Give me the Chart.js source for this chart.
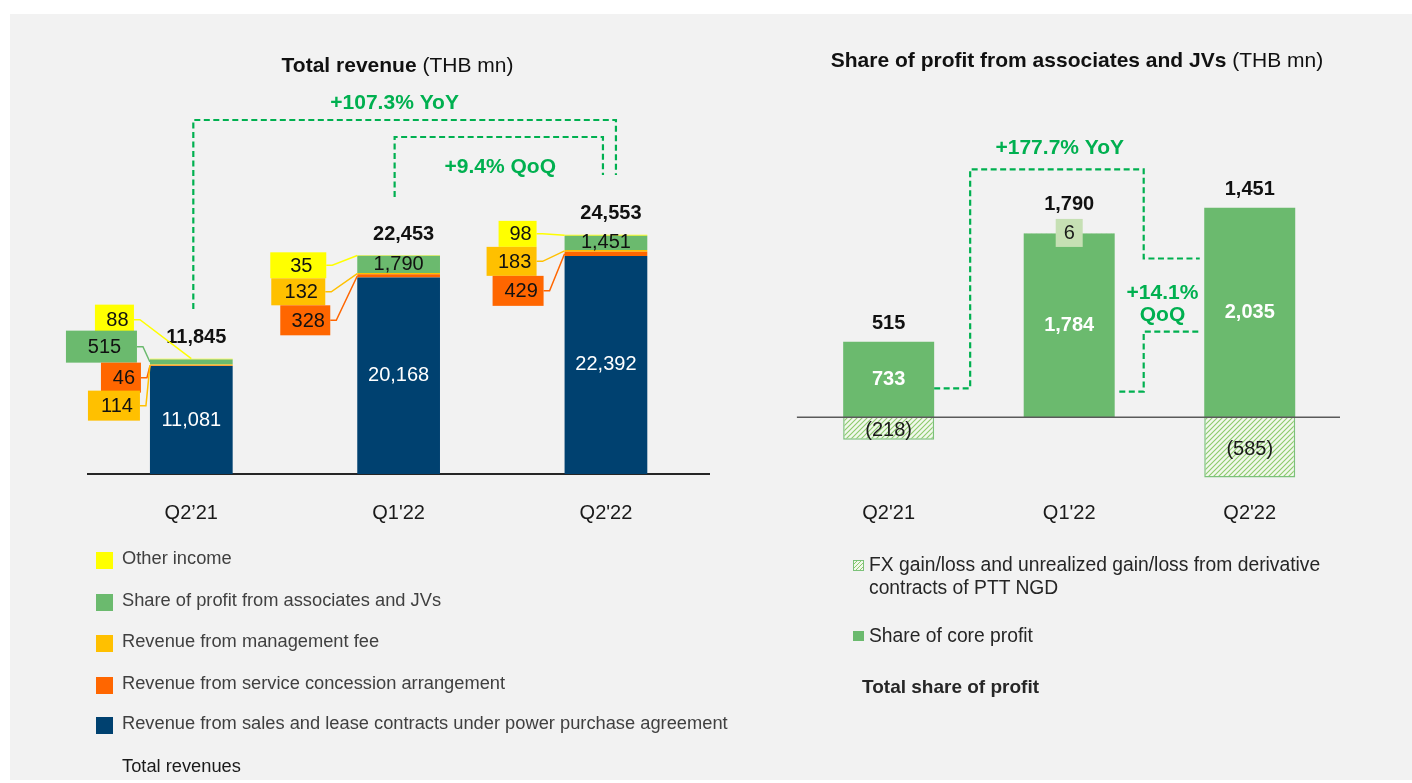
<!DOCTYPE html>
<html><head><meta charset="utf-8">
<script src="https://cdn.jsdelivr.net/npm/chart.js@4.4.1/dist/chart.umd.min.js"></script>
<style>
html,body{margin:0;padding:0;background:#fff;width:1412px;height:783px;overflow:hidden;font-family:"Liberation Sans",Arial,sans-serif;}
#panel{position:absolute;left:10px;top:14px;width:1402px;height:766px;background:#f2f2f2;}
canvas{position:absolute;left:0;top:0;}
.t{position:absolute;white-space:nowrap;line-height:1.2;}
.sq{position:absolute;}
</style></head><body>
<div id="panel"></div>
<canvas id="cl" width="1412" height="783"></canvas>
<canvas id="cr" width="1412" height="783"></canvas>
<div id="texts"></div>
<script>
// ---------------- DATA ----------------
const categories = ["Q2\u201921", "Q1'22", "Q2'22"];
const salesLease = [11081, 20168, 22392];
const serviceConcession = [46, 328, 429];
const managementFee = [114, 132, 183];
const shareProfit = [515, 1790, 1451];
const otherIncome = [88, 35, 98];
const totalRevenues = [11845, 22453, 24553];
const revenueSeriesNames = [
  "Other income",
  "Share of profit from associates and JVs",
  "Revenue from management fee",
  "Revenue from service concession arrangement",
  "Revenue from sales and lease contracts under power purchase agreement"
];
const revenueChanges = ["+107.3% YoY", "+9.4% QoQ"];

const profitCategories = ["Q2'21", "Q1'22", "Q2'22"];
const coreProfit = [733, 1784, 2035];
const fxGainLoss = [-218, 6, -585];
const totalShareProfit = [515, 1790, 1451];
const profitChanges = ["+177.7% YoY", "+14.1%", "QoQ"];

// ---------------- STYLE ----------------
const FONT = '"Liberation Sans", Arial, sans-serif';
const NAVY = '#004170', ORANGE = '#ff6600', AMBER = '#ffc000', GREEN = '#6bba6e', YELLOW = '#ffff00';
const LIGHTGREEN = '#c6e0b4', ANNO = '#00b050';

const fmt = v => v < 0 ? '(' + Math.abs(v).toLocaleString('en-US') + ')' : v.toLocaleString('en-US');

function txt(ctx, s, x, y, size, color, bold) {
  ctx.save();
  ctx.font = (bold ? 'bold ' : '') + size + 'px ' + FONT;
  ctx.fillStyle = color; ctx.textAlign = 'center'; ctx.textBaseline = 'middle';
  ctx.fillText(s, x, y);
  ctx.restore();
}
function dashed(ctx, pts) {
  ctx.save();
  ctx.setLineDash([6, 3.5]); ctx.strokeStyle = ANNO; ctx.lineWidth = 2.2;
  ctx.beginPath();
  pts.forEach((p, i) => i ? ctx.lineTo(p[0], p[1]) : ctx.moveTo(p[0], p[1]));
  ctx.stroke(); ctx.restore();
}

// callout boxes: position relative to bar left edge (r = right edge) and top of stack (t)
const calloutLayout = [
  {c:0, s:'other', r:-16, t:-54, w:39, h:30, tgt:'center'},
  {c:0, s:'share', r:-13, t:-28, w:71, h:32},
  {c:0, s:'conc',  r:-9,  t:4,   w:40, h:30},
  {c:0, s:'mgmt',  r:-10, t:32,  w:52, h:30},
  {c:1, s:'other', r:-31, t:-3,  w:56, h:26},
  {c:1, s:'mgmt',  r:-32, t:23,  w:54, h:27},
  {c:1, s:'conc',  r:-27, t:50,  w:50, h:30},
  {c:2, s:'other', r:-28, t:-14, w:38, h:26},
  {c:2, s:'mgmt',  r:-28, t:12,  w:50, h:29},
  {c:2, s:'conc',  r:-21, t:41,  w:51, h:30}
];

// ---------------- LEFT CHART ----------------
const leftPlugin = {
  id: 'leftDecor',
  afterDatasetsDraw(chart) {
    const ctx = chart.ctx;
    const metas = [0,1,2,3,4].map(i => chart.getDatasetMeta(i));
    const key = {sales:0, conc:1, mgmt:2, share:3, other:4};
    const vals = [salesLease, serviceConcession, managementFee, shareProfit, otherIncome];
    const colors = [NAVY, ORANGE, AMBER, GREEN, YELLOW];
    categories.forEach((c, i) => {
      const s = metas[0].data[i];
      txt(ctx, fmt(salesLease[i]), s.x, (s.y + s.base) / 2, 20, '#ffffff', false);
      const top = metas[4].data[i].y;
      txt(ctx, fmt(totalRevenues[i]), s.x + 5, top - 21, 20, '#111111', true);
      const hasCallout = calloutLayout.some(L => L.c === i && L.s === 'share');
      if (!hasCallout) {
        const g = metas[3].data[i];
        txt(ctx, fmt(shareProfit[i]), s.x, (g.y + g.base) / 2, 20, '#111111', false);
      }
    });
    calloutLayout.forEach(L => {
      const k = key[L.s];
      const el = metas[k].data[L.c];
      const b = metas[0].data[L.c];
      const left = b.x - b.width / 2;
      const top = metas[4].data[L.c].y;
      const r = left + L.r, t = top + L.t, x0 = r - L.w, my = t + L.h / 2;
      const tx = L.tgt === 'center' ? b.x : left;
      const ty = L.tgt === 'center' ? el.y : (el.y + el.base) / 2;
      ctx.save();
      ctx.strokeStyle = colors[k]; ctx.lineWidth = 1.5;
      ctx.beginPath(); ctx.moveTo(r, my); ctx.lineTo(r + 6, my); ctx.lineTo(tx, ty); ctx.stroke();
      ctx.fillStyle = colors[k]; ctx.fillRect(x0, t, L.w, L.h);
      ctx.restore();
      txt(ctx, fmt(vals[k][L.c]), x0 + L.w / 2 + 3, my + 1, 20, '#111111', false);
    });
    const c0 = metas[0].data[0].x, c1 = metas[0].data[1].x, c2 = metas[0].data[2].x;
    dashed(ctx, [[c0 + 2, 309], [c0 + 2, 120], [c2 + 10, 120], [c2 + 10, 175]]);
    dashed(ctx, [[c1 - 4, 197], [c1 - 4, 137], [c2 - 3, 137], [c2 - 3, 175]]);
    txt(ctx, revenueChanges[0], (c0 + c2) / 2 - 4, 103, 21, ANNO, true);
    txt(ctx, revenueChanges[1], (c1 + c2) / 2 - 2, 167, 21, ANNO, true);
  }
};

new Chart(document.getElementById('cl'), {
  type: 'bar',
  data: {
    labels: categories,
    datasets: [
      {label: revenueSeriesNames[4], data: salesLease, backgroundColor: NAVY},
      {label: revenueSeriesNames[3], data: serviceConcession, backgroundColor: ORANGE},
      {label: revenueSeriesNames[2], data: managementFee, backgroundColor: AMBER},
      {label: revenueSeriesNames[1], data: shareProfit, backgroundColor: GREEN},
      {label: revenueSeriesNames[0], data: otherIncome, backgroundColor: YELLOW}
    ]
  },
  options: {
    responsive: false, animation: false,
    layout: {padding: {left: 87.65, right: 702.4, top: 181.8, bottom: 249}},
    datasets: {bar: {categoryPercentage: 1, barPercentage: 0.399}},
    plugins: {legend: {display: false}, tooltip: {enabled: false}},
    scales: {
      x: {stacked: true, grid: {display: false, drawTicks: false},
          border: {display: true, color: '#262626', width: 2},
          ticks: {font: {family: FONT, size: 20}, color: '#1a1a1a', padding: 27},
          afterFit(s) { s.height = 60; }},
      y: {stacked: true, display: false, min: 0, max: 30000}
    }
  },
  plugins: [leftPlugin]
});

// ---------------- RIGHT CHART ----------------
function hatchPattern() {
  const c = document.createElement('canvas'); c.width = 5; c.height = 5;
  const g = c.getContext('2d');
  g.fillStyle = '#f1f8ec'; g.fillRect(0, 0, 5, 5);
  g.strokeStyle = '#8cca6c'; g.lineWidth = 1.1;
  g.beginPath();
  g.moveTo(-1, 6); g.lineTo(6, -1);
  g.moveTo(-1, 1); g.lineTo(1, -1);
  g.moveTo(4, 6); g.lineTo(6, 4);
  g.stroke();
  return document.getElementById('cr').getContext('2d').createPattern(c, 'repeat');
}

const rightPlugin = {
  id: 'rightDecor',
  afterDatasetsDraw(chart) {
    const ctx = chart.ctx;
    const m0 = chart.getDatasetMeta(0), m1 = chart.getDatasetMeta(1);
    const y0 = chart.scales.y.getPixelForValue(0);
    ctx.save(); ctx.strokeStyle = '#5a5a5a'; ctx.lineWidth = 1.5;
    ctx.beginPath(); ctx.moveTo(chart.chartArea.left - 1.5, y0); ctx.lineTo(chart.chartArea.right, y0); ctx.stroke();
    ctx.restore();
    profitCategories.forEach((c, i) => {
      const a = m0.data[i], f = m1.data[i];
      txt(ctx, fmt(coreProfit[i]), a.x, (a.y + a.base) / 2, 20, '#ffffff', true);
      let top = a.y, off = 18;
      if (fxGainLoss[i] < 0) {
        txt(ctx, fmt(fxGainLoss[i]), f.x, (f.y + f.base) / 2 + 2, 20, '#1a1a1a', false);
      } else {
        top = Math.min(a.y, f.y);
        ctx.save(); ctx.fillStyle = LIGHTGREEN; ctx.fillRect(f.x - 13.5, top - 14, 27, 28); ctx.restore();
        txt(ctx, fmt(fxGainLoss[i]), f.x, top + 1, 20, '#1a1a1a', false);
        off = 28;
      }
      txt(ctx, fmt(totalShareProfit[i]), a.x, top - off, 20, '#111111', true);
    });
    const b0 = m0.data[0], b1 = m0.data[1], b2 = m0.data[2];
    const b0r = b0.x + b0.width / 2, b1r = b1.x + b1.width / 2, b2l = b2.x - b2.width / 2;
    dashed(ctx, [[b0r, 388.3], [b0r + 36, 388.3], [b0r + 36, 169.3], [b1r + 29, 169.3], [b1r + 29, 258.5], [b2l - 4.5, 258.5]]);
    dashed(ctx, [[b1r + 4.6, 391.7], [b1r + 29, 391.7], [b1r + 29, 331.7], [b2l - 4.5, 331.7]]);
    txt(ctx, profitChanges[0], b1.x - 9.4, 148, 21, ANNO, true);
    txt(ctx, profitChanges[1], (b1r + b2l) / 2 + 3, 293, 21, ANNO, true);
    txt(ctx, profitChanges[2], (b1r + b2l) / 2 + 3, 315, 21, ANNO, true);
  }
};

new Chart(document.getElementById('cr'), {
  type: 'bar',
  data: {
    labels: profitCategories,
    datasets: [
      {label: 'Share of core profit', data: coreProfit, backgroundColor: GREEN},
      {label: 'FX gain/loss and unrealized gain/loss from derivative contracts of PTT NGD', data: fxGainLoss,
       backgroundColor: hatchPattern(), borderColor: '#7cc27a', borderWidth: 1.5, borderSkipped: 'start'}
    ]
  },
  options: {
    responsive: false, animation: false,
    layout: {padding: {left: 798.4, right: 72, top: 170.1, bottom: 243.9}},
    datasets: {bar: {categoryPercentage: 1, barPercentage: 0.504}},
    plugins: {legend: {display: false}, tooltip: {enabled: false}},
    scales: {
      x: {stacked: true, grid: {display: false, drawTicks: false}, border: {display: false},
          ticks: {font: {family: FONT, size: 20}, color: '#1a1a1a', padding: 22},
          afterFit(s) { s.height = 60; }},
      y: {stacked: true, display: false, min: -600, max: 2400}
    }
  },
  plugins: [rightPlugin]
});

// ---------------- HTML TEXT (titles, legends) ----------------
const T = document.getElementById('texts');
function place(html, x, cy, size, opts = {}) {
  const d = document.createElement('div');
  d.className = 't'; d.innerHTML = html;
  d.style.fontSize = size + 'px';
  d.style.color = opts.color || '#111';
  if (opts.bold) d.style.fontWeight = 'bold';
  d.style.top = (cy - size * 0.6) + 'px';
  if (opts.center) { d.style.left = x + 'px'; d.style.transform = 'translateX(-50%)'; }
  else d.style.left = x + 'px';
  T.appendChild(d);
}
function square(x, y, w, h, bg, border) {
  const d = document.createElement('div');
  d.className = 'sq';
  d.style.left = x + 'px'; d.style.top = y + 'px'; d.style.width = w + 'px'; d.style.height = h + 'px';
  d.style.background = bg;
  if (border) { d.style.boxSizing = 'border-box'; d.style.border = border; }
  T.appendChild(d);
}
place('<b>Total revenue</b> (THB mn)', 397.5, 65, 21, {center: true});
place('<b>Share of profit from associates and JVs</b> (THB mn)', 1077, 60, 21, {center: true});

const legendColors = [YELLOW, GREEN, AMBER, ORANGE, NAVY];
const legendY = [558, 600, 641, 683, 723];
revenueSeriesNames.forEach((n, i) => {
  square(96, legendY[i] + 2.3 - 8.5, 17, 17, legendColors[i]);
  place(n, 122, legendY[i], 18.3, {color: '#404040'});
});
place('Total revenues', 122, 766, 18.3, {color: '#1a1a1a'});

square(853, 559.5, 11, 11, 'repeating-linear-gradient(135deg,#f1f8ec 0 1.5px,#8cca6c 1.5px 2.8px)', '1px solid #7cc27a');
place('FX gain/loss and unrealized gain/loss from derivative', 869, 565, 19.3, {color: '#262626'});
place('contracts of PTT NGD', 869, 588, 19.3, {color: '#262626'});
square(853, 630.5, 11, 10, GREEN);
place('Share of core profit', 869, 635.7, 19.3, {color: '#262626'});
place('Total share of profit', 862, 687.3, 19, {color: '#262626', bold: true});
</script>
</body></html>
